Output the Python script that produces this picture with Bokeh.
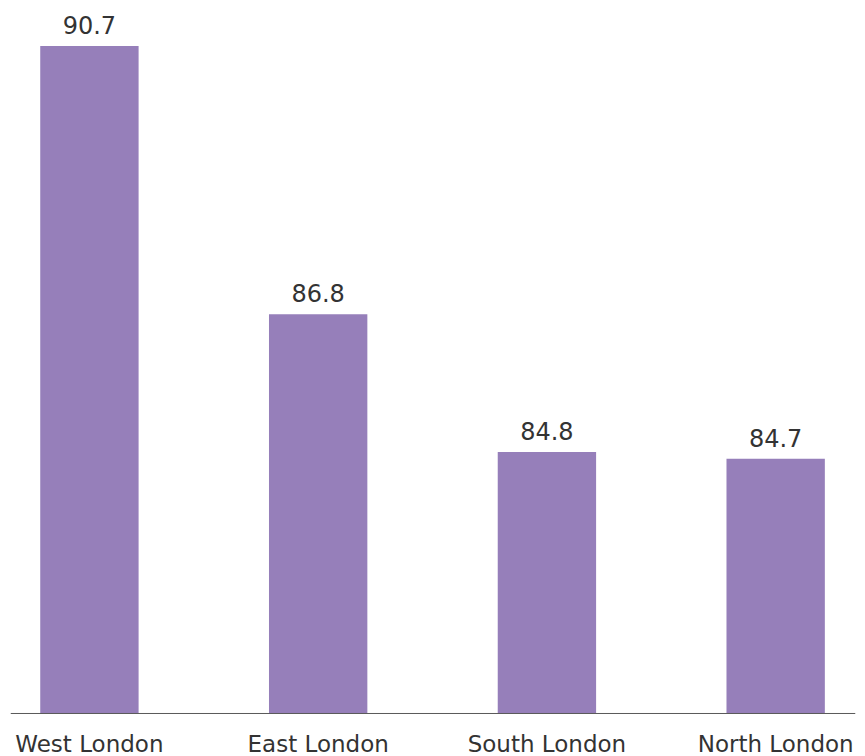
from bokeh.plotting import figure
from bokeh.models import ColumnDataSource, LabelSet, Range1d, Span
from bokeh.core.properties import value
from bokeh.embed import file_html
from bokeh.resources import INLINE

categories = ["West London", "East London", "South London", "North London"]
values = [90.7, 86.8, 84.8, 84.7]
value_labels = ["90.7", "86.8", "84.8", "84.7"]
baseline = 81

positions = list(range(len(categories)))
source = ColumnDataSource(dict(x=positions, top=values, label=value_labels,
                               cat=categories, base=[baseline] * len(categories)))

p = figure(width=865, height=756, output_backend="svg", toolbar_location=None,
           x_range=Range1d(-0.345, 3.349), y_range=Range1d(80.375, 91.36),
           min_border_left=10, min_border_right=10, min_border_top=0, min_border_bottom=0)

p.vbar(x="x", top="top", bottom=baseline, width=0.43, source=source,
       fill_color="#967FBA", line_color=None)

p.add_layout(Span(location=baseline, dimension="width", line_color="#5a5a5a", line_width=1))

value_set = LabelSet(x="x", y="top", text="label", source=source,
                     text_align="center", text_baseline="alphabetic", y_offset=12,
                     text_font=value("DejaVu Sans"), text_font_size=value("24px"),
                     text_color="#333333")
p.add_layout(value_set)

cat_set = LabelSet(x="x", y="base", text="cat", source=source,
                   text_align="center", text_baseline="alphabetic", y_offset=-39,
                   text_font=value("DejaVu Sans"), text_font_size=value("23px"),
                   text_color="#333333")
p.add_layout(cat_set)

p.xaxis.visible = False
p.yaxis.visible = False
p.xgrid.visible = False
p.ygrid.visible = False
p.outline_line_color = None

open("out.html", "w").write(file_html(p, INLINE))
